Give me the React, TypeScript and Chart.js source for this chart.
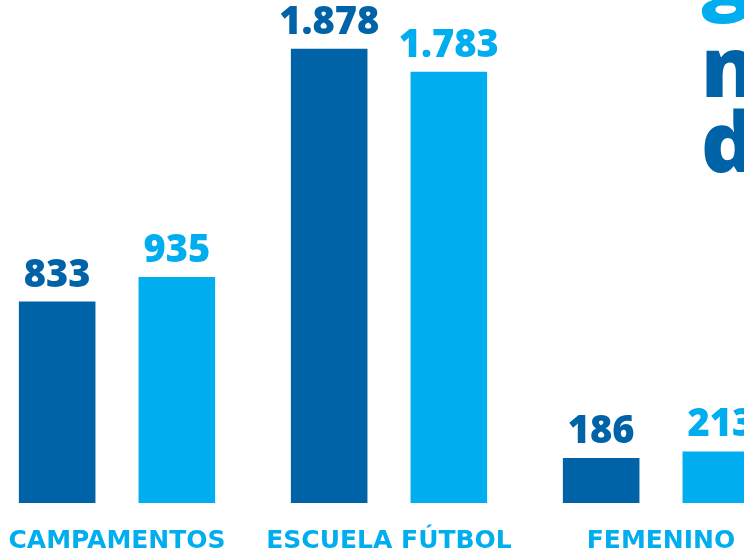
import React, { useEffect, useRef } from "react";
import { Chart, registerables } from "chart.js";

Chart.register(...registerables);

const categories = ["CAMPAMENTOS", "ESCUELA FÚTBOL", "FEMENINO"];
const seriesPrevious = [833, 1878, 186];
const seriesCurrent = [935, 1783, 213];
const headingLines = ["gracias", "niños", "de"];

const DARK = "#0063A7";
const LIGHT = "#00AEEF";
const SHIFT = 19;

function formatThousands(v: number): string {
  return String(v).replace(/\B(?=(\d{3})+(?!\d))/g, ".");
}

const valueLabels = {
  id: "valueLabels",
  afterDatasetsDraw(chart: any) {
    const ctx = chart.ctx;
    ctx.save();
    ctx.textAlign = "center";
    ctx.textBaseline = "alphabetic";
    ctx.font = '800 38px "Open Sans"';
    chart.data.datasets.forEach((ds: any, i: number) => {
      const meta = chart.getDatasetMeta(i);
      ctx.fillStyle = ds.backgroundColor;
      meta.data.forEach((el: any, j: number) => {
        ctx.fillText(formatThousands(ds.data[j]), el.x, el.y - 15);
      });
    });
    ctx.restore();
  },
};

const heading = {
  id: "heading",
  afterDraw(chart: any) {
    const ctx = chart.ctx;
    ctx.save();
    ctx.textAlign = "left";
    ctx.textBaseline = "alphabetic";
    ctx.font = '800 84px "Open Sans"';
    const x = 701 + SHIFT;
    ctx.fillStyle = LIGHT;
    ctx.fillText(headingLines[0], x, 4);
    ctx.fillStyle = DARK;
    ctx.fillText(headingLines[1], x, 97);
    ctx.fillText(headingLines[2], x, 172);
    ctx.restore();
  },
};

export default function App() {
  const ref = useRef<HTMLCanvasElement>(null);
  useEffect(() => {
    if (!ref.current) return;
    const chart = new Chart(ref.current, {
      type: "bar",
      data: {
        labels: categories,
        datasets: [
          { label: "Anterior", data: seriesPrevious, backgroundColor: DARK },
          { label: "Actual", data: seriesCurrent, backgroundColor: LIGHT },
        ],
      },
      options: {
        responsive: false,
        animation: false,
        layout: { padding: 0 },
        datasets: { bar: { categoryPercentage: 0.88, barPercentage: 0.64 } },
        plugins: { legend: { display: false }, tooltip: { enabled: false } },
        scales: {
          x: {
            grid: { display: false, drawTicks: false },
            border: { display: false },
            ticks: {
              color: LIGHT,
              font: { family: "DejaVu Sans", weight: "bold", size: 25 },
              padding: 23,
              maxRotation: 0,
              autoSkip: false,
            },
            afterFit(scale: any) {
              scale.height = 52;
            },
          },
          y: { display: false, min: 0, max: 2080 },
        },
      },
      plugins: [valueLabels, heading],
    });
    return () => chart.destroy();
  }, []);
  return (
    <div
      style={{
        position: "fixed",
        left: 0,
        top: 0,
        width: 744,
        height: 555,
        overflow: "hidden",
        background: "#fff",
      }}
    >
      <canvas
        ref={ref}
        width={816}
        height={555}
        style={{ position: "absolute", left: -SHIFT, top: 0, width: 816, height: 555 }}
      />
    </div>
  );
}
